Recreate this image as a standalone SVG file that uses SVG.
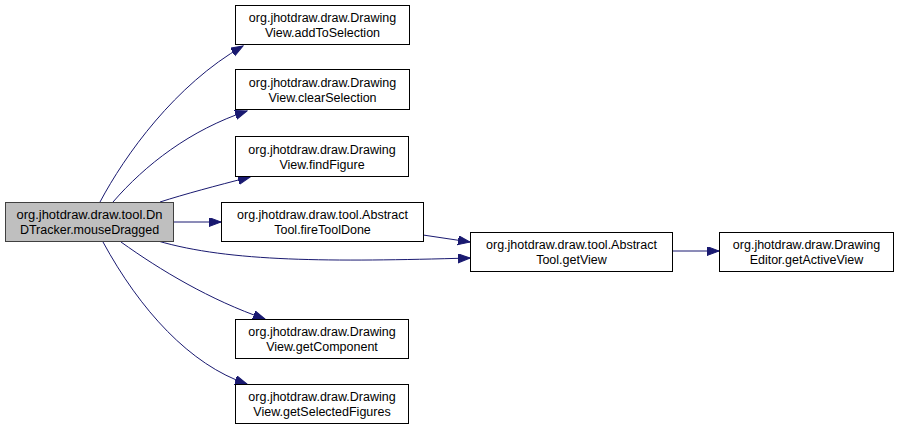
<svg xmlns="http://www.w3.org/2000/svg" width="899" height="431" viewBox="0 0 899 431">
<style>
.box{fill:#ffffff;stroke:#000000;stroke-width:1}
.cur{fill:#bfbfbf;stroke:#404040;stroke-width:1}
text{font-family:"Liberation Sans",Arial,sans-serif;font-size:12.5px;fill:#000000;text-anchor:middle}
.e{fill:none;stroke:#191970;stroke-width:1;marker-end:url(#ah)}
</style>
<defs>
<marker id="ah" markerUnits="userSpaceOnUse" markerWidth="13" markerHeight="10" refX="12" refY="4.5" orient="auto">
<path d="M0,0 L12,4.5 L0,9 z" fill="#191970" stroke="#191970" stroke-width="1"/>
</marker>
</defs>
<rect width="899" height="431" fill="#ffffff"/>
<g id="edges">
<path class="e" d="M100,202 C125,155 175,85 243,46"/>
<path class="e" d="M113,202 C145,165 190,130 247,111"/>
<path class="e" d="M160,202 C185,194 215,186 250,177"/>
<path class="e" d="M173,222 L221,222"/>
<path class="e" d="M158,241 C230,262 330,262 470,258"/>
<path class="e" d="M423,235 L470,242"/>
<path class="e" d="M672,251 L719,251"/>
<path class="e" d="M121,242 C160,270 210,300 265,319"/>
<path class="e" d="M103,242 C140,310 190,365 247,384"/>
</g>
<g id="n_mouseDragged">
<rect class="cur" x="5.5" y="202.5" width="168" height="39"/>
<text x="89.5" y="219" textLength="146" lengthAdjust="spacingAndGlyphs">org.jhotdraw.draw.tool.Dn</text>
<text x="89.5" y="234">DTracker.mouseDragged</text>
</g>
<g id="n_addToSelection">
<rect class="box" x="235.5" y="5.5" width="174" height="39"/>
<text x="322.5" y="22">org.jhotdraw.draw.Drawing</text>
<text x="322.5" y="37">View.addToSelection</text>
</g>
<g id="n_clearSelection">
<rect class="box" x="235.5" y="69.5" width="174" height="40"/>
<text x="322.5" y="87">org.jhotdraw.draw.Drawing</text>
<text x="322.5" y="102">View.clearSelection</text>
</g>
<g id="n_findFigure">
<rect class="box" x="235.5" y="136.5" width="173" height="40"/>
<text x="322" y="154">org.jhotdraw.draw.Drawing</text>
<text x="322" y="169">View.findFigure</text>
</g>
<g id="n_fireToolDone">
<rect class="box" x="221.5" y="202.5" width="202" height="39"/>
<text x="322.5" y="219">org.jhotdraw.draw.tool.Abstract</text>
<text x="322.5" y="234">Tool.fireToolDone</text>
</g>
<g id="n_getView">
<rect class="box" x="470.5" y="232.5" width="202" height="39"/>
<text x="571.5" y="249">org.jhotdraw.draw.tool.Abstract</text>
<text x="571.5" y="264">Tool.getView</text>
</g>
<g id="n_getActiveView">
<rect class="box" x="719.5" y="232.5" width="174" height="39"/>
<text x="806.5" y="249">org.jhotdraw.draw.Drawing</text>
<text x="806.5" y="264">Editor.getActiveView</text>
</g>
<g id="n_getComponent">
<rect class="box" x="235.5" y="319.5" width="173" height="39"/>
<text x="322" y="336">org.jhotdraw.draw.Drawing</text>
<text x="322" y="351">View.getComponent</text>
</g>
<g id="n_getSelectedFigures">
<rect class="box" x="235.5" y="384.5" width="173" height="39"/>
<text x="322" y="401">org.jhotdraw.draw.Drawing</text>
<text x="322" y="416">View.getSelectedFigures</text>
</g>
</svg>
